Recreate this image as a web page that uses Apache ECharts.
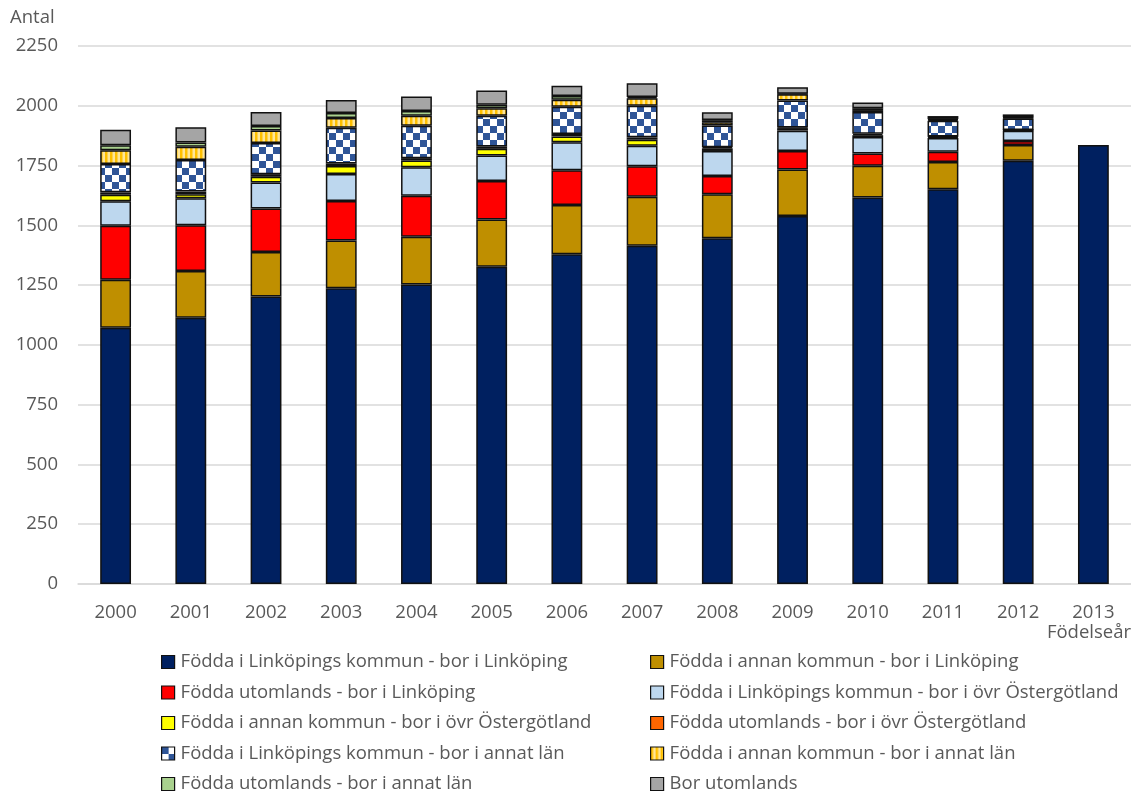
<!DOCTYPE html>
<html>
<head>
<meta charset="utf-8">
<script src="https://cdn.jsdelivr.net/npm/echarts@6/dist/echarts.min.js"></script>
<style>html,body{margin:0;padding:0;background:#fff}#c{width:1131px;height:791px}</style>
</head>
<body>
<div id="c"></div>
<script>
const years = ['2000','2001','2002','2003','2004','2005','2006','2007','2008','2009','2010','2011','2012','2013'];
const seriesNames = [
  'Födda i Linköpings kommun - bor i Linköping',
  'Födda i annan kommun - bor i Linköping',
  'Födda utomlands - bor i Linköping',
  'Födda i Linköpings kommun - bor i övr Östergötland',
  'Födda i annan kommun - bor i övr Östergötland',
  'Födda utomlands - bor i övr Östergötland',
  'Födda i Linköpings kommun - bor i annat län',
  'Födda i annan kommun - bor i annat län',
  'Födda utomlands - bor i annat län',
  'Bor utomlands'
];
const linkLink   = [1072, 1114, 1202, 1237, 1253, 1327, 1379, 1415, 1446, 1539, 1616, 1651, 1770, 1836];
const annanLink  = [200, 195, 186, 200, 199, 197, 206, 205, 184, 195, 133, 114, 66, null];
const utomLink   = [226, 191, 182, 165, 172, 161, 145, 127, 76, 77, 51, 43, 17, null];
const linkOst    = [103, 113, 109, 113, 119, 107, 117, 86, 105, 85, 69, 57, 43, null];
const annanOst   = [27, 17, 24, 33, 28, 28, 25, 25, 11, 10, 8, 4, 2, null];
const utomOst    = [10, 11, 11, 11, 10, 10, 10, 10, 5, 3, 6, 2, 1, null];
const linkLan    = [119, 132, 130, 149, 135, 128, 114, 132, 90, 113, 91, 66, 48, null];
const annanLan   = [57, 56, 53, 41, 42, 32, 29, 31, 14, 26, 8, 5, 3, null];
const utomLan    = [21, 17, 18, 21, 20, 14, 16, 6, 9, 2, 8, 3, 2, null];
const borUtom    = [65, 64, 59, 54, 61, 60, 43, 57, 33, 28, 24, 12, 12, null];
const yTicks = [0, 250, 500, 750, 1000, 1250, 1500, 1750, 2000, 2250];

function checker() {
  const c = document.createElement('canvas'); c.width = 14; c.height = 14;
  const g = c.getContext('2d');
  g.fillStyle = '#ffffff'; g.fillRect(0,0,14,14);
  g.fillStyle = '#2F5597'; g.fillRect(0,0,7,7); g.fillRect(7,7,7,7);
  return {image: c, repeat: 'repeat'};
}
function stripes() {
  const c = document.createElement('canvas'); c.width = 5; c.height = 5;
  const g = c.getContext('2d');
  g.fillStyle = '#FFE699'; g.fillRect(0,0,5,5);
  g.fillStyle = '#FFC000'; g.fillRect(0,0,2.5,5);
  return {image: c, repeat: 'repeat'};
}

const dataList = [linkLink, annanLink, utomLink, linkOst, annanOst, utomOst, linkLan, annanLan, utomLan, borUtom];
const colors = ['#002060', '#BF8F00', '#FF0000', '#BDD7EE', '#FFFF00', '#FF6600', checker(), stripes(), '#A9D18E', '#A5A5A5'];

const FONT = 'Open Sans';
const TXT = '#595959';

const series = dataList.map((d, i) => ({
  name: seriesNames[i],
  type: 'bar',
  stack: 'total',
  data: d,
  barWidth: '41%',
  itemStyle: { color: colors[i], borderColor: '#111', borderWidth: 1.5 }
}));

const legends = seriesNames.map((n, i) => ({
  left: (i % 2 === 0) ? 161 : 650,
  top: 652 + Math.floor(i / 2) * 30.5,
  padding: 0,
  itemWidth: 13,
  itemHeight: 13,
  icon: 'rect',
  itemStyle: { borderColor: '#111', borderWidth: 1.2 },
  textStyle: { color: TXT, fontSize: 18.5, fontFamily: FONT, lineHeight: 20, padding: [0, 0, 0, 1] },
  data: [n]
}));

const chart = echarts.init(document.getElementById('c'), null, {renderer: 'canvas'});
chart.setOption({
  animation: false,
  backgroundColor: '#fff',
  textStyle: { fontFamily: FONT },
  grid: { left: 78, top: 46, width: 1063, bottom: 207 },
  xAxis: {
    type: 'category',
    data: years,
    axisTick: { show: false },
    axisLine: { show: true, lineStyle: { color: '#D9D9D9', width: 1.5 } },
    axisLabel: { color: TXT, fontSize: 18.5, margin: 19, fontFamily: FONT }
  },
  yAxis: {
    type: 'value',
    min: yTicks[0],
    max: yTicks[yTicks.length - 1],
    interval: 250,
    axisLine: { show: false },
    axisTick: { show: false },
    splitLine: { lineStyle: { color: '#D9D9D9', width: 1.5 } },
    axisLabel: { color: TXT, fontSize: 18.5, margin: 20, fontFamily: FONT, formatter: v => String(v) }
  },
  legend: legends,
  graphic: [
    { type: 'text', left: 10, top: 8, style: { text: 'Antal', fill: TXT, font: '18.5px "Open Sans"' } },
    { type: 'text', right: 0, top: 623, style: { text: 'Födelseår', fill: TXT, font: '18.5px "Open Sans"' } }
  ],
  series: series
});
</script>
</body>
</html>
